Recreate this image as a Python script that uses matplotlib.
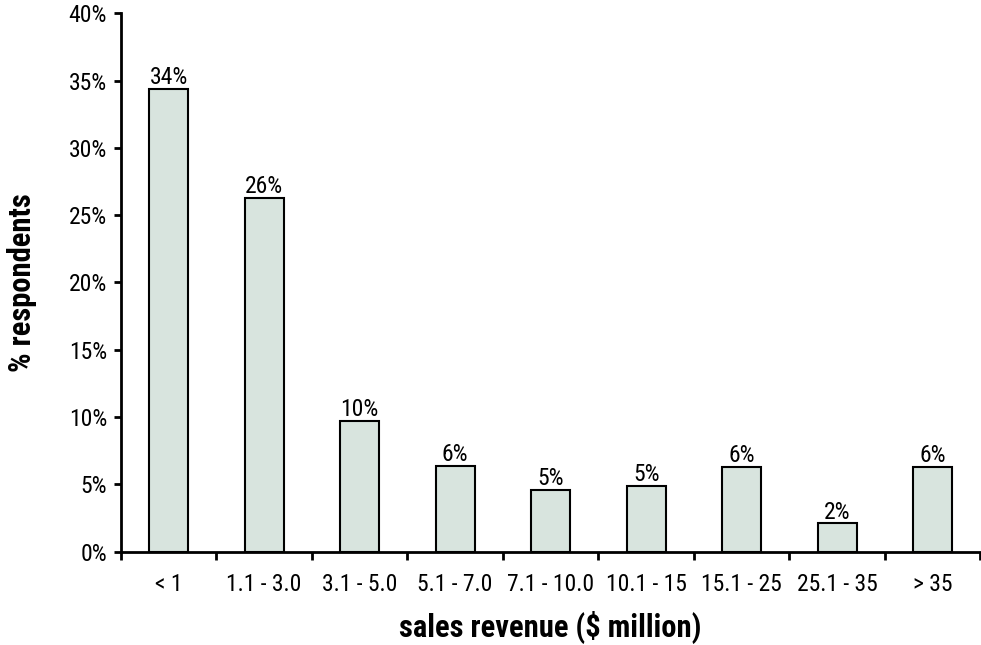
import numpy as np
import matplotlib.pyplot as plt
from matplotlib.ticker import FuncFormatter, MultipleLocator

# revenue bands and share of respondents (%)
categories = ['< 1', '1.1 - 3.0', '3.1 - 5.0', '5.1 - 7.0', '7.1 - 10.0',
              '10.1 - 15', '15.1 - 25', '25.1 - 35', '> 35']
share = [34.4, 26.3, 9.7, 6.4, 4.6, 4.9, 6.3, 2.1, 6.3]

plt.rcParams['font.family'] = ['Roboto Condensed', 'DejaVu Sans']

fig = plt.figure(figsize=(9.81, 6.45), dpi=100)
ax = fig.add_axes([0.1233, 0.1447, 0.876, 0.8347])

x = np.arange(len(categories))
bars = ax.bar(x, share, width=0.41, color='#d8e4de', edgecolor='black', linewidth=1.5)

for b, v in zip(bars, share):
    ax.annotate(f'{v:.0f}%', (b.get_x() + b.get_width() / 2, v),
                xytext=(0, 3.5), textcoords='offset points',
                ha='center', va='baseline', fontsize=17)

ax.set_xlim(-0.5, len(categories) - 0.5)
ax.set_ylim(0, 40)
ax.yaxis.set_major_locator(MultipleLocator(5))
ax.yaxis.set_major_formatter(FuncFormatter(lambda v, p: f'{v:.0f}%'))

# category labels centred, tick marks on the boundaries
ax.set_xticks(x)
ax.set_xticklabels(categories, fontsize=17)
ax.tick_params(axis='x', length=0, pad=15)
ax.set_xticks(np.arange(len(categories) + 1) - 0.5, minor=True)
ax.tick_params(axis='x', which='minor', length=6, width=2, direction='out')
ax.tick_params(axis='y', length=5, width=2, labelsize=17, pad=5)

for side in ['top', 'right']:
    ax.spines[side].set_visible(False)
for side in ['left', 'bottom']:
    ax.spines[side].set_linewidth(2)

ax.set_xlabel('sales revenue ($ million)', fontsize=22, fontweight='bold', labelpad=11)
ax.set_ylabel('% respondents', fontsize=22, fontweight='bold', labelpad=23)

fig.savefig('out.png', dpi=100)
